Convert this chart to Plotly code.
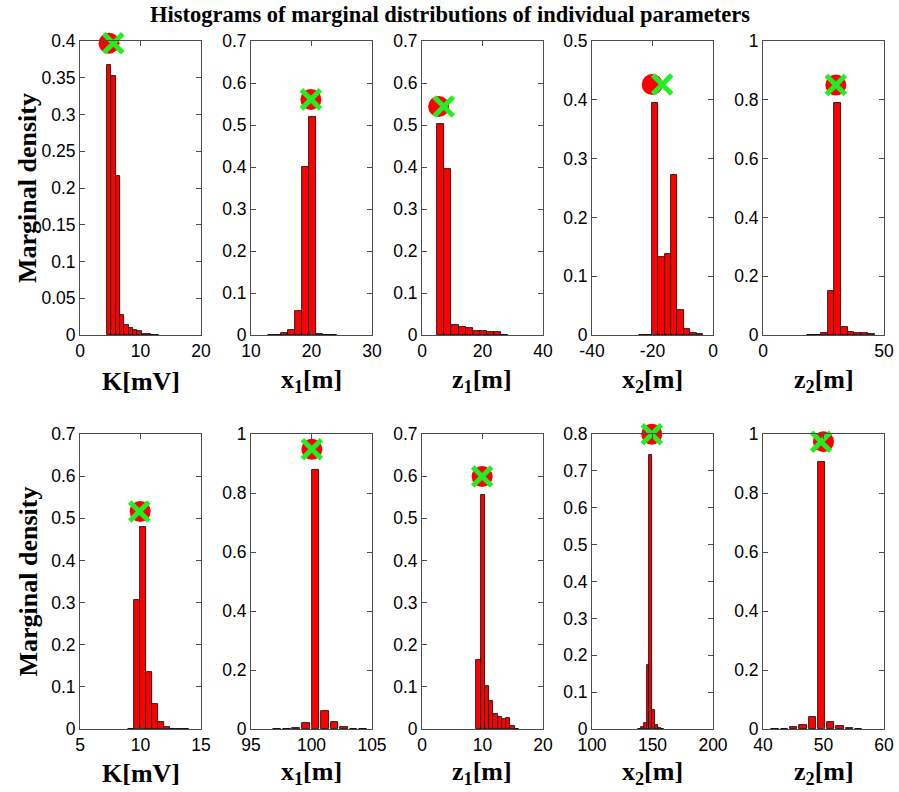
import plotly.graph_objects as go

title = "Histograms of marginal distributions of individual parameters"
y_title = "Marginal density"
x_titles = ["K[mV]", "x<sub>1</sub>[m]", "z<sub>1</sub>[m]", "x<sub>2</sub>[m]", "z<sub>2</sub>[m]"]

# ---------------- Row 1 ----------------
k_top_centers = [4.82, 5.54, 6.26, 6.98, 7.70, 8.42, 9.14, 9.86, 10.58, 11.30, 12.02, 12.74]
k_top_density = [0.368, 0.353, 0.217, 0.027, 0.014, 0.009, 0.007, 0.005, 0.002, 0.001, 0.0005, 0.0003]

x1_top_centers = [13.4, 14.5, 15.6, 16.75, 17.9, 19.05, 20.2, 21.35, 22.5, 23.6]
x1_top_density = [0.0005, 0.001, 0.004, 0.012, 0.056, 0.401, 0.518, 0.003, 0.001, 0.0005]

z1_top_centers = [6.25, 8.58, 10.91, 13.24, 15.57, 17.9, 20.23, 22.56, 24.89, 27.22]
z1_top_density = [0.503, 0.395, 0.025, 0.019, 0.017, 0.009, 0.0095, 0.008, 0.008, 0.001]

x2_top_centers = [-23.39, -21.28, -19.17, -17.06, -14.95, -12.84, -10.73, -8.62, -6.51, -4.40]
x2_top_density = [0.0003, 0.0008, 0.395, 0.133, 0.138, 0.272, 0.043, 0.011, 0.004, 0.001]

z2_top_centers = [19.75, 22.5, 25.3, 28.05, 30.8, 33.6, 36.4, 39.15, 41.9, 44.7]
z2_top_density = [0.0005, 0.001, 0.008, 0.148, 0.788, 0.028, 0.009, 0.008, 0.006, 0.003]

# ---------------- Row 2 ----------------
k_bot_centers = [9.22, 9.72, 10.22, 10.72, 11.22, 11.72, 12.22, 12.72, 13.22, 13.72]
k_bot_density = [0.001, 0.306, 0.479, 0.136, 0.060, 0.017, 0.005, 0.001, 0.0005, 0.0003]

x1_bot_centers = [97.16, 97.95, 98.74, 99.53, 100.32, 101.11, 101.9, 102.69, 103.48, 104.27]
x1_bot_density = [0.0005, 0.001, 0.004, 0.022, 0.879, 0.062, 0.025, 0.007, 0.001, 0.001]

z1_bot_centers = [9.35, 10.05, 10.75, 11.45, 12.15, 12.85, 13.55, 14.25, 14.95, 15.65]
z1_bot_density = [0.164, 0.555, 0.101, 0.066, 0.035, 0.028, 0.024, 0.025, 0.006, 0.001]

x2_bot_centers = [139.35, 141.65, 144.0, 146.35, 148.65, 151.0, 153.35, 155.65, 158.0]
x2_bot_density = [0.001, 0.005, 0.016, 0.174, 0.743, 0.051, 0.012, 0.002, 0.001]

z2_bot_centers = [42.0, 43.54, 45.07, 46.6, 48.14, 49.67, 51.2, 52.73, 54.27, 55.8]
z2_bot_density = [0.001, 0.001, 0.007, 0.014, 0.041, 0.904, 0.025, 0.010, 0.002, 0.001]

# true value (red circle) and estimate (green cross): (x, y)
true_points = [(4.8, 0.397), (19.9, 0.561), (5.5, 0.544), (-20.1, 0.426), (30.1, 0.85),
               (9.97, 0.516), (100.03, 0.948), (9.94, 0.599), (149.4, 0.7995), (50.0, 0.974)]
est_points = [(5.5, 0.397), (19.9, 0.561), (7.2, 0.544), (-16.8, 0.426), (30.1, 0.85),
              (9.9, 0.516), (100.03, 0.948), (9.94, 0.599), (149.4, 0.7995), (49.6, 0.974)]

# axis ranges and ticks
x_ranges = [(0, 20), (10, 30), (0, 40), (-40, 0), (0, 50),
            (5, 15), (95, 105), (0, 20), (100, 200), (40, 60)]
x_ticks = [[0, 10, 20], [10, 20, 30], [0, 20, 40], [-40, -20, 0], [0, 50],
           [5, 10, 15], [95, 100, 105], [0, 10, 20], [100, 150, 200], [40, 50, 60]]
y_max = [0.4, 0.7, 0.7, 0.5, 1.0, 0.7, 1.0, 0.7, 0.8, 1.0]
y_step = [0.05, 0.1, 0.1, 0.1, 0.2, 0.1, 0.2, 0.1, 0.1, 0.2]

bin_widths = [0.72, 1.15, 2.33, 2.11, 2.78, 0.5, 0.79, 0.70, 2.33, 1.53]
bar_fraction = [1, 1, 1, 1, 1, 1, 0.8, 1, 1, 0.8]

centers = [k_top_centers, x1_top_centers, z1_top_centers, x2_top_centers, z2_top_centers,
           k_bot_centers, x1_bot_centers, z1_bot_centers, x2_bot_centers, z2_bot_centers]
densities = [k_top_density, x1_top_density, z1_top_density, x2_top_density, z2_top_density,
             k_bot_density, x1_bot_density, z1_bot_density, x2_bot_density, z2_bot_density]

W, H = 899, 792
lefts = [80, 251, 422, 592, 763]
pw = 121
rows_px = [(41, 335), (434, 729)]
xtitle_y_px = [381, 773]

fig = go.Figure()
axis_color = "#4d4d4d"
tick_font = dict(family="Liberation Sans, Arial", size=17.5, color="black")
label_font = dict(family="Liberation Serif, Times New Roman", size=26, color="black")

for i in range(10):
    r, c = divmod(i, 5)
    n = i + 1
    xa = "x" if n == 1 else f"x{n}"
    ya = "y" if n == 1 else f"y{n}"
    fig.add_trace(go.Bar(
        x=centers[i], y=densities[i], width=bin_widths[i] * bar_fraction[i],
        marker=dict(color="#ff0000", line=dict(color="black", width=0.8)),
        xaxis=xa, yaxis=ya, showlegend=False, hoverinfo="x+y"))
    fig.add_trace(go.Scatter(
        x=[true_points[i][0]], y=[true_points[i][1]], mode="markers",
        marker=dict(symbol="circle", size=21, color="#ff0000"),
        xaxis=xa, yaxis=ya, showlegend=False, cliponaxis=False))
    fig.add_trace(go.Scatter(
        x=[est_points[i][0]], y=[est_points[i][1]], mode="markers",
        marker=dict(symbol="x-thin", size=19, color="#22ee22",
                    line=dict(color="#22ee22", width=5)),
        xaxis=xa, yaxis=ya, showlegend=False, cliponaxis=False))

    x0 = lefts[c] / W
    x1 = (lefts[c] + pw) / W
    top, bot = rows_px[r]
    yd = [1 - bot / H, 1 - top / H]
    nsteps = int(round(y_max[i] / y_step[i]))
    yvals = [round(k * y_step[i], 4) for k in range(nsteps + 1)]
    common = dict(showline=True, mirror="ticks", linecolor=axis_color, linewidth=1,
                  ticks="inside", ticklen=5, tickcolor=axis_color, tickwidth=1,
                  showgrid=False, zeroline=False, tickfont=tick_font, automargin=False)
    fig.layout[f"xaxis{'' if n == 1 else n}"] = dict(
        domain=[x0, x1], anchor=ya, range=list(x_ranges[i]),
        tickvals=x_ticks[i], ticktext=[f"{v:g}" for v in x_ticks[i]], **common)
    fig.layout[f"yaxis{'' if n == 1 else n}"] = dict(
        domain=yd, anchor=xa, range=[0, y_max[i]],
        tickvals=yvals, ticktext=[f"{v:g}" for v in yvals], **common)

    fig.add_annotation(text=f"<b>{x_titles[c]}</b>", xref="paper", yref="paper",
                       x=(x0 + x1) / 2, y=1 - xtitle_y_px[r] / H,
                       xanchor="center", yanchor="middle", showarrow=False, font=label_font)
    if c == 0:
        fig.add_annotation(text=f"<b>{y_title}</b>", xref="paper", yref="paper",
                           x=28 / W, y=1 - (top + bot) / 2 / H, textangle=-90,
                           xanchor="center", yanchor="middle", showarrow=False, font=label_font)

fig.add_annotation(text=f"<b>{title}</b>", xref="paper", yref="paper",
                   x=0.5, y=1 - 15 / H, xanchor="center", yanchor="middle", showarrow=False,
                   font=dict(family="Liberation Serif, Times New Roman", size=22.5, color="black"))

fig.update_layout(width=W, height=H, margin=dict(l=0, r=0, t=0, b=0),
                  plot_bgcolor="white", paper_bgcolor="white", bargap=0,
                  template="none")

fig.write_html("out.html")
